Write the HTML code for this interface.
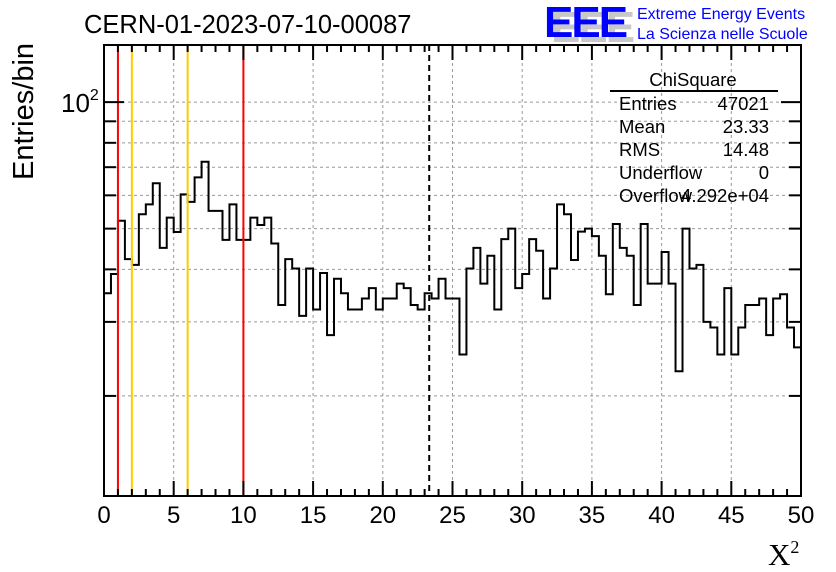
<!DOCTYPE html>
<html><head><meta charset="utf-8"><style>
body{margin:0;background:#fff;}
svg{display:block;font-family:"Liberation Sans",Arial,sans-serif;}
</style></head><body>
<svg id="c" width="836" height="572" viewBox="0 0 836 572" xmlns="http://www.w3.org/2000/svg">
<rect width="836" height="572" fill="#fff"/>
<g id="grid"></g>
<g id="marks"></g>
<g id="axes"></g>
<text x="84" y="33" font-size="25.5">CERN-01-2023-07-10-00087</text>
<text transform="translate(33,180) rotate(-90)" font-size="29">Entries/bin</text>
<text x="768" y="565" font-size="31" font-family="Liberation Serif,serif">X<tspan font-size="18" dy="-12">2</tspan></text>
<g>
<text x="551" y="42" font-size="44" font-weight="bold" fill="#c8c8c8" letter-spacing="-2">EEE</text>
<text x="544" y="37" font-size="44" font-weight="bold" fill="#0000ff" letter-spacing="-2">EEE</text>
<text x="637" y="19" font-size="16" fill="#0000ff">Extreme Energy Events</text>
<text x="637" y="39" font-size="16" fill="#0000ff">La Scienza nelle Scuole</text>
</g>
<g font-size="18.5">
<text x="693" y="86" text-anchor="middle">ChiSquare</text>
<line x1="610" y1="91" x2="778" y2="91" stroke="#000" stroke-width="2"/>
<text x="619" y="110">Entries</text><text x="769" y="110" text-anchor="end">47021</text>
<text x="619" y="133">Mean</text><text x="769" y="133" text-anchor="end">23.33</text>
<text x="619" y="156">RMS</text><text x="769" y="156" text-anchor="end">14.48</text>
<text x="619" y="179">Underflow</text><text x="769" y="179" text-anchor="end">0</text>
<text x="619" y="202">Overflow</text><text x="769" y="202" text-anchor="end">4.292e+04</text>
</g>
</svg>
<script>
const binValues=[35.1,39.0,52.2,42.3,41.0,54.1,57.1,64.1,45.0,53.1,
49.1,60.3,57.9,66.2,72.1,55.1,55.1,47.0,57.1,47.0,
47.0,53.1,51.0,53.1,46.1,32.9,42.3,40.2,31.0,40.2,
32.1,39.2,27.9,38.0,35.1,32.1,32.1,34.1,36.1,32.1,
34.1,34.1,37.0,36.1,32.9,32.1,35.1,34.1,38.0,34.1,
34.1,25.1,40.2,45.0,37.0,43.1,32.1,47.2,50.0,36.1,
39.0,47.2,44.3,34.1,40.2,57.1,54.1,42.1,49.2,50.0,
48.0,43.1,34.9,51.3,45.0,43.1,32.9,51.3,37.0,37.0,
44.0,37.0,22.9,50.0,40.2,41.0,30.0,29.1,25.1,36.1,
25.1,29.1,32.9,32.9,34.1,27.9,34.1,34.9,29.1,26.1];
const xTicks=[0,5,10,15,20,25,30,35,40,45,50];
const yGrid=[20,30,40,50,60,70,80,90,100];
const redLines=[1,10];
const yellowLines=[2,6];
const meanValue=23.33;
const NS='http://www.w3.org/2000/svg';
const X0=104,X1=801,Y0=45,Y1=496;
const xMin=0,xMax=50,yMin=11.56,yMax=136.7;
function sx(v){return X0+(v-xMin)/(xMax-xMin)*(X1-X0);}
function sy(v){return Y1-(Math.log10(v)-Math.log10(yMin))/(Math.log10(yMax)-Math.log10(yMin))*(Y1-Y0);}
function mk(tag,attrs,parent){const e=document.createElementNS(NS,tag);for(const k in attrs)e.setAttribute(k,attrs[k]);parent.appendChild(e);return e;}
const grid=document.getElementById('grid'),marks=document.getElementById('marks'),axes=document.getElementById('axes');
xTicks.slice(1,-1).forEach(t=>{const l=mk('line',{x1:sx(t),x2:sx(t),y1:Y0,y2:Y1,stroke:'#999','stroke-dasharray':'3,3','stroke-width':1},grid);

});
yGrid.forEach(v=>{const l=mk('line',{x1:X0,x2:X1,y1:sy(v),y2:sy(v),stroke:'#999','stroke-dasharray':'3,3','stroke-width':1},grid);

});
const bw=(xMax-xMin)/binValues.length;
let d='M'+X0+','+sy(binValues[0]);
binValues.forEach((v,i)=>{d+=' L'+sx(i*bw)+','+sy(v)+' L'+sx((i+1)*bw)+','+sy(v);});
const h=mk('path',{d:d,fill:'none',stroke:'#000','stroke-width':2},marks);


redLines.forEach(v=>{const l=mk('line',{x1:sx(v),x2:sx(v),y1:Y0,y2:Y1,stroke:'#ff0000','stroke-width':2},marks);

});
yellowLines.forEach(v=>{const l=mk('line',{x1:sx(v),x2:sx(v),y1:Y0,y2:Y1,stroke:'#ffcc00','stroke-width':2},marks);

});
const ml=mk('line',{x1:sx(meanValue),x2:sx(meanValue),y1:Y0,y2:Y1,stroke:'#000','stroke-width':2,'stroke-dasharray':'6,4'},marks);


const fr=mk('rect',{x:X0,y:Y0,width:X1-X0,height:Y1-Y0,fill:'none',stroke:'#000','stroke-width':2},axes);


for(let t=0;t<=50;t+=1){const major=t%5===0;const len=major?15:7;
mk('line',{x1:sx(t),x2:sx(t),y1:Y1,y2:Y1-len,stroke:'#000','stroke-width':2},axes);
mk('line',{x1:sx(t),x2:sx(t),y1:Y0,y2:Y0+len,stroke:'#000','stroke-width':2},axes);}
xTicks.forEach(t=>{const tx=mk('text',{x:sx(t),y:523,'font-size':24,'text-anchor':'middle'},axes);tx.textContent=String(t);

});
yGrid.forEach(v=>{const len=v===100?20:12;
mk('line',{x1:X0,x2:X0+len,y1:sy(v),y2:sy(v),stroke:'#000','stroke-width':2},axes);
mk('line',{x1:X1,x2:X1-len,y1:sy(v),y2:sy(v),stroke:'#000','stroke-width':2},axes);});
const yl=mk('text',{x:61,y:sy(100)+10,'font-size':26},axes);
yl.innerHTML='10<tspan font-size="16" dy="-12">2</tspan>';


</script>
</body></html>
